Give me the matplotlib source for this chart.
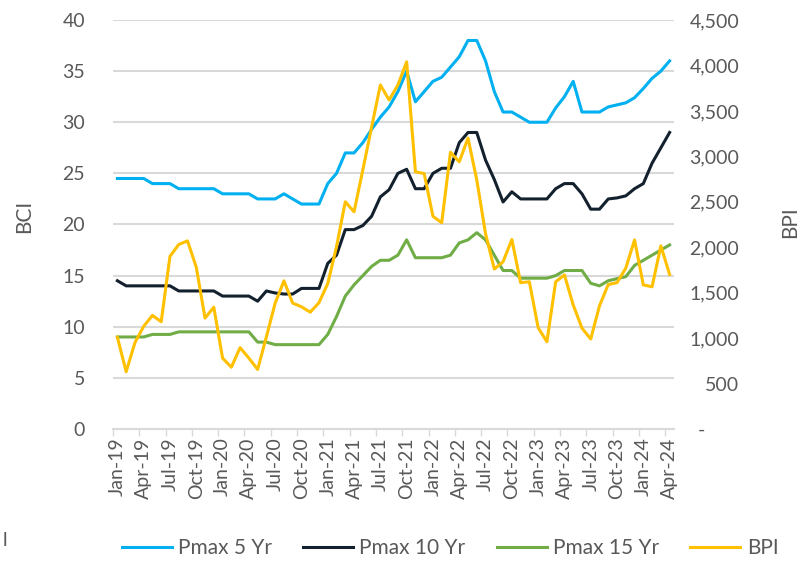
import numpy as np
import matplotlib.pyplot as plt
from matplotlib.ticker import FixedLocator

plt.rcParams['font.family'] = ['Lato', 'DejaVu Sans']

# Monthly labels Jan-19 .. Apr-24
months = ['Jan', 'Feb', 'Mar', 'Apr', 'May', 'Jun', 'Jul', 'Aug', 'Sep', 'Oct', 'Nov', 'Dec']
labels = [f'{months[m]}-{y % 100:02d}' for y in range(2019, 2025) for m in range(12)][:64]

# (BCI scale, left)
pmax5 = [24.5, 24.5, 24.5, 24.5, 24.0, 24.0, 24.0, 23.5, 23.5, 23.5, 23.5, 23.5,
         23.0, 23.0, 23.0, 23.0, 22.5, 22.5, 22.5, 23.0, 22.5, 22.0, 22.0, 22.0,
         24.0, 25.0, 27.0, 27.0, 28.0, 29.3, 30.5, 31.5, 33.0, 35.0, 32.0, 33.0,
         34.0, 34.4, 35.4, 36.4, 38.0, 38.0, 36.0, 33.0, 31.0, 31.0, 30.5, 30.0,
         30.0, 30.0, 31.4, 32.5, 34.0, 31.0, 31.0, 31.0, 31.5, 31.7, 31.9, 32.4,
         33.3, 34.3, 35.0, 36.0]
pmax10 = [14.5, 14.0, 14.0, 14.0, 14.0, 14.0, 14.0, 13.5, 13.5, 13.5, 13.5, 13.5,
          13.0, 13.0, 13.0, 13.0, 12.5, 13.5, 13.3, 13.2, 13.2, 13.75, 13.75, 13.75,
          16.2, 17.0, 19.5, 19.5, 19.9, 20.8, 22.7, 23.4, 25.0, 25.4, 23.5, 23.5,
          25.0, 25.5, 25.5, 28.0, 29.0, 29.0, 26.3, 24.4, 22.2, 23.2, 22.5, 22.5,
          22.5, 22.5, 23.5, 24.0, 24.0, 23.0, 21.5, 21.5, 22.5, 22.6, 22.8, 23.5,
          24.0, 26.0, 27.5, 29.0]
pmax15 = [9.0, 9.0, 9.0, 9.0, 9.25, 9.25, 9.25, 9.5, 9.5, 9.5, 9.5, 9.5,
          9.5, 9.5, 9.5, 9.5, 8.5, 8.5, 8.25, 8.25, 8.25, 8.25, 8.25, 8.25,
          9.25, 11.0, 13.0, 14.1, 15.0, 15.9, 16.5, 16.5, 17.0, 18.5, 16.75, 16.75,
          16.75, 16.75, 17.0, 18.2, 18.5, 19.2, 18.5, 17.0, 15.5, 15.5, 14.75, 14.75,
          14.75, 14.75, 15.0, 15.5, 15.5, 15.5, 14.25, 14.0, 14.5, 14.7, 14.9, 16.0,
          16.5, 17.0, 17.5, 18.0]
# BPI scale, right
bpi = [1010, 630, 950, 1130, 1250, 1180, 1900, 2030, 2070, 1780, 1220, 1340,
       780, 680, 895, 780, 655, 1015, 1385, 1630, 1385, 1345, 1285, 1390,
       1600, 2005, 2500, 2390, 2850, 3320, 3785, 3620, 3785, 4040, 2830, 2810,
       2340, 2270, 3045, 2940, 3200, 2740, 2150, 1760, 1840, 2085, 1610, 1620,
       1115, 960, 1620, 1695, 1365, 1110, 990, 1355, 1590, 1610, 1770, 2080,
       1585, 1565, 2015, 1700]

x = np.arange(len(labels))
txt = '#595959'
grid = '#D9D9D9'

fig = plt.figure(figsize=(8.11, 5.64), dpi=100)
ax = fig.add_axes([113 / 811, 1 - 429 / 564, 561 / 811, 409 / 564])
ax2 = ax.twinx()

l1, = ax.plot(x, pmax5, color='#00B0F0', lw=2.2, label='Pmax 5 Yr')
l2, = ax.plot(x, pmax10, color='#13202E', lw=2.2, label='Pmax 10 Yr')
l3, = ax.plot(x, pmax15, color='#70AD47', lw=2.2, label='Pmax 15 Yr')
l4, = ax2.plot(x, bpi, color='#FFC000', lw=2.2, label='BPI')

ax.set_xlim(-0.5, 63.5)
ax.set_ylim(0, 40)
ax2.set_ylim(0, 4500)
ax.set_yticks(np.arange(0, 41, 5))
ax2.set_yticks(np.arange(0, 4501, 500))
ax2.set_yticklabels(['-\u2007\u2007\u2007'] + [f'{v:,}' for v in range(500, 4501, 500)])

ax.set_xticks(x[::3])
ax.set_xticklabels(labels[::3], rotation=90)
ax.xaxis.set_minor_locator(FixedLocator(np.arange(-0.5, 63, 3)))
ax.tick_params(axis='x', which='major', length=0, pad=6, labelsize=14, labelcolor=txt)
ax.tick_params(axis='x', which='minor', length=5, width=1, color=grid)
ax.tick_params(axis='y', length=0, pad=20, labelsize=14, labelcolor=txt)
ax2.tick_params(axis='y', length=0, pad=47, labelsize=14, labelcolor=txt)
for t in ax2.get_yticklabels():
    t.set_horizontalalignment('right')

ax.grid(axis='y', color=grid, lw=1.5)
ax.set_axisbelow(True)
for a in (ax, ax2):
    for s in a.spines.values():
        s.set_visible(False)
ax.spines['bottom'].set_visible(True)
ax.spines['bottom'].set_color(grid)
ax.spines['bottom'].set_linewidth(1.5)

fig.text(24 / 811, 1 - 216 / 564, 'BCI', rotation=90, ha='center', va='center', fontsize=15, color=txt)
fig.text(790 / 811, 1 - 222 / 564, 'BPI', rotation=90, ha='center', va='center', fontsize=15, color=txt)
fig.text(5 / 811, 1 - 541 / 564, 'l', ha='center', va='center', fontsize=14, color=txt)

fig.legend(handles=[l1, l2, l3, l4], loc='center', bbox_to_anchor=(450 / 811, 1 - 548 / 564),
           ncol=4, frameon=False, fontsize=15, labelcolor=txt, handlelength=2.4,
           handletextpad=0.3, columnspacing=1.5)

fig.savefig('out.png', dpi=100)
